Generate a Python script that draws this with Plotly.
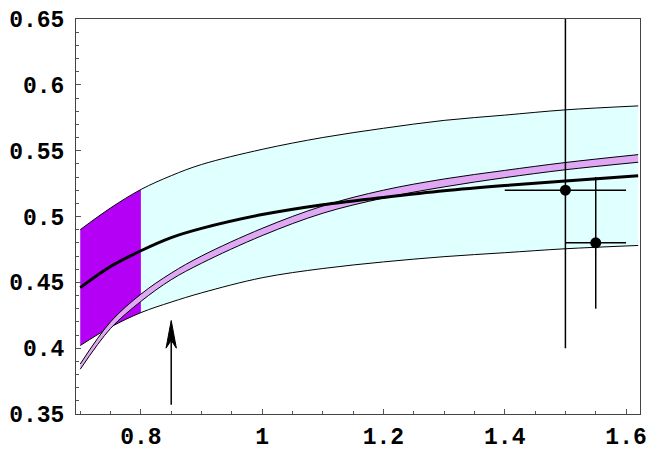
import plotly.graph_objects as go

# curve sample points
x_grid = [0.7, 0.75, 0.8, 0.85, 0.9, 1.0, 1.1, 1.2, 1.3, 1.4, 1.5, 1.62]
band_upper = [0.490, 0.5065, 0.5205, 0.531, 0.5395, 0.551, 0.560, 0.567, 0.573, 0.577, 0.581, 0.584]
band_lower = [0.402, 0.416, 0.427, 0.435, 0.442, 0.4535, 0.4605, 0.4655, 0.4695, 0.4725, 0.4755, 0.478]
thick_curve = [0.446, 0.462, 0.474, 0.484, 0.491, 0.5015, 0.509, 0.5145, 0.5195, 0.5235, 0.527, 0.531]
pink_upper = [0.388, 0.420, 0.441, 0.457, 0.470, 0.491, 0.508, 0.520, 0.5285, 0.535, 0.541, 0.547]
pink_lower = [0.384, 0.415, 0.4355, 0.452, 0.4645, 0.4855, 0.5025, 0.514, 0.5225, 0.5295, 0.5355, 0.5412]

# purple part of the band (x <= 0.8)
purple_n = 3

# measurements
pts_x = [1.5, 1.55]
pts_y = [0.52, 0.48]
pts_x_minus = [0.1, 0.05]
pts_x_plus = [0.1, 0.05]
pts_y_minus = [0.12, 0.05]
pts_y_plus = [0.13, 0.05]

# arrow
arrow_x = 0.85
arrow_y0 = 0.357
arrow_y1 = 0.421

x_range = [0.693, 1.623]
y_range = [0.35, 0.65]
x_tickvals = [0.8, 1.0, 1.2, 1.4, 1.6]
x_ticktext = ["0.8", "1", "1.2", "1.4", "1.6"]
y_tickvals = [0.35, 0.4, 0.45, 0.5, 0.55, 0.6, 0.65]
y_ticktext = ["0.35", "0.4", "0.45", "0.5", "0.55", "0.6", "0.65"]

CYAN = "#E0FFFF"
PURPLE = "#B400F5"
PINK = "#E0A8F4"

fig = go.Figure()

# cyan band
fig.add_trace(go.Scatter(x=x_grid, y=band_lower, mode="lines", line=dict(width=0, shape="spline"),
                         showlegend=False, hoverinfo="skip"))
fig.add_trace(go.Scatter(x=x_grid, y=band_upper, mode="lines", fill="tonexty", fillcolor=CYAN,
                         line=dict(width=0, shape="spline"), showlegend=False, hoverinfo="skip"))

# purple section
fig.add_trace(go.Scatter(x=x_grid[:purple_n], y=band_lower[:purple_n], mode="lines",
                         line=dict(width=0, shape="spline"), showlegend=False, hoverinfo="skip"))
fig.add_trace(go.Scatter(x=x_grid[:purple_n], y=band_upper[:purple_n], mode="lines", fill="tonexty",
                         fillcolor=PURPLE, line=dict(width=0, shape="spline"), showlegend=False,
                         hoverinfo="skip"))

# band edges
for ys in (band_upper, band_lower):
    fig.add_trace(go.Scatter(x=x_grid, y=ys, mode="lines", line=dict(color="black", width=1, shape="spline"),
                             showlegend=False, hoverinfo="skip"))

# pink band
fig.add_trace(go.Scatter(x=x_grid, y=pink_lower, mode="lines", line=dict(color="black", width=1, shape="spline"),
                         showlegend=False, hoverinfo="skip"))
fig.add_trace(go.Scatter(x=x_grid, y=pink_upper, mode="lines", fill="tonexty", fillcolor=PINK,
                         line=dict(color="black", width=1, shape="spline"), showlegend=False, hoverinfo="skip"))

# thick curve
fig.add_trace(go.Scatter(x=x_grid, y=thick_curve, mode="lines", line=dict(color="black", width=3, shape="spline"),
                         showlegend=False, hoverinfo="skip"))

# data points
fig.add_trace(go.Scatter(
    x=pts_x, y=pts_y, mode="markers",
    marker=dict(color="black", size=11),
    error_x=dict(type="data", symmetric=False, array=pts_x_plus, arrayminus=pts_x_minus,
                 color="black", thickness=1.5, width=0),
    error_y=dict(type="data", symmetric=False, array=pts_y_plus, arrayminus=pts_y_minus,
                 color="black", thickness=1.5, width=0),
    showlegend=False,
))

# arrow: shaft plus a narrow notched head
head_len = 0.021
head_notch = 0.015
head_half = 0.0085
fig.add_trace(go.Scatter(x=[arrow_x, arrow_x], y=[arrow_y0, arrow_y1 - head_notch], mode="lines",
                         line=dict(color="black", width=1.5), showlegend=False, hoverinfo="skip"))
fig.add_trace(go.Scatter(
    x=[arrow_x, arrow_x - head_half, arrow_x, arrow_x + head_half, arrow_x],
    y=[arrow_y1, arrow_y1 - head_len, arrow_y1 - head_notch, arrow_y1 - head_len, arrow_y1],
    mode="lines", fill="toself", fillcolor="black", line=dict(color="black", width=1),
    showlegend=False, hoverinfo="skip"))

tick_font = dict(family="Liberation Mono", size=23, color="black", weight="bold")
axis_common = dict(
    showgrid=False, zeroline=False, showline=True, linecolor="#444444", linewidth=1,
    mirror=True, ticks="inside", ticklen=5, tickcolor="#555555", tickwidth=1,
    tickfont=tick_font, automargin=False,
)
x_minor = dict(ticks="inside", ticklen=3, dtick=0.05, tick0=0.0, tickcolor="#555555", showgrid=False)
y_minor = dict(ticks="inside", ticklen=3, dtick=0.01, tick0=0.0, tickcolor="#555555", showgrid=False)

fig.update_layout(
    xaxis=dict(range=x_range, tickvals=x_tickvals, ticktext=x_ticktext, minor=x_minor,
               ticklabelstandoff=1, **axis_common),
    yaxis=dict(range=y_range, tickvals=y_tickvals, ticktext=y_ticktext, minor=y_minor,
               ticklabelstandoff=6, **axis_common),
    # frame ticks on the top and right edges, Mathematica style
    xaxis2=dict(range=x_range, tickvals=x_tickvals, minor=x_minor, overlaying="x", side="top",
                showticklabels=False, showgrid=False, zeroline=False, ticks="inside", ticklen=5,
                tickcolor="#555555", automargin=False),
    yaxis2=dict(range=y_range, tickvals=y_tickvals, minor=y_minor, overlaying="y", side="right",
                showticklabels=False, showgrid=False, zeroline=False, ticks="inside", ticklen=5,
                tickcolor="#555555", automargin=False),
    width=653, height=457,
    margin=dict(l=76, r=13, t=19, b=43),
    plot_bgcolor="white", paper_bgcolor="white",
    showlegend=False,
)

# the page body has a default 8px margin; drop it so the figure sits at the window corner
fig.write_html("out.html", config={"displayModeBar": False},
               post_script="document.body.style.margin = '0';")
